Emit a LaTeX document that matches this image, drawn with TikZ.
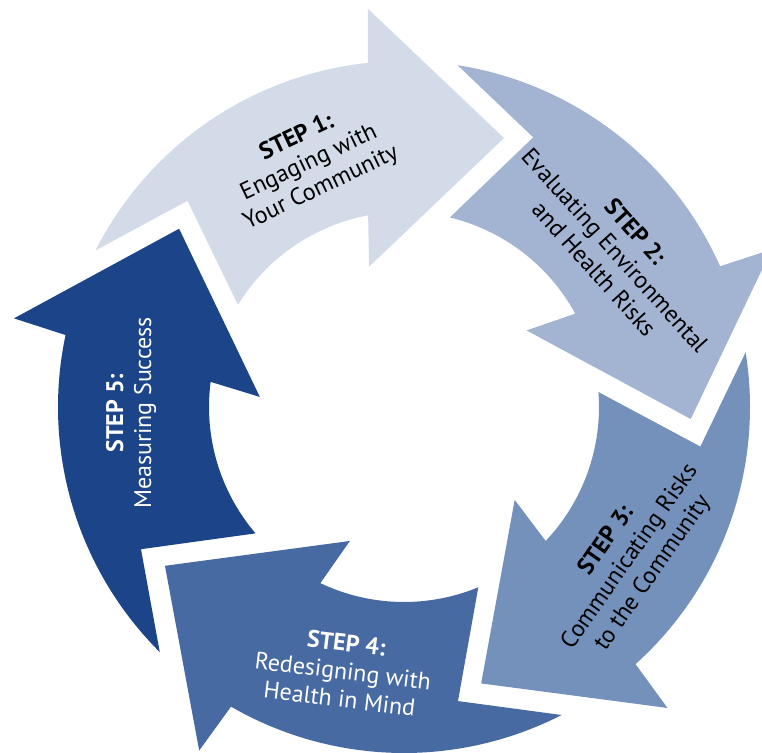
\documentclass[tikz,border=0pt]{standalone}
\usepackage{fontspec}
\setmainfont{PT Sans}

\definecolor{stepone}{HTML}{D3DBE8}
\definecolor{steptwo}{HTML}{A3B4D2}
\definecolor{stepthree}{HTML}{7491BC}
\definecolor{stepfour}{HTML}{476AA2}
\definecolor{stepfive}{HTML}{1C4589}

\tikzset{
  steptext/.style={align=center, font=\fontsize{24}{28}\selectfont},
}

\begin{document}
\begin{tikzpicture}[x = 1pt, y = 1pt]
\def\cx{404}
\def\cy{345}

\useasboundingbox (0,0) rectangle (762,752);
\coordinate (c) at (\cx, \cy);

% five curved arrows, same outline turned by 72 degrees
\fill[stepone, shift={(c)}] (153.1:346) arc[start angle=153.1, end angle=96.0, radius=346] -- (95.2:400) -- (69.6:287) -- (104.0:144.5) -- (100.6:195) arc[start angle=100.6, end angle=148.4, radius=195] -- (136.4:299) -- cycle;
\fill[steptwo, shift={(c)}, rotate=-72] (153.1:346) arc[start angle=153.1, end angle=96.0, radius=346] -- (95.2:400) -- (69.6:287) -- (104.0:144.5) -- (100.6:195) arc[start angle=100.6, end angle=148.4, radius=195] -- (136.4:299) -- cycle;
\fill[stepthree, shift={(c)}, rotate=-144] (153.1:346) arc[start angle=153.1, end angle=96.0, radius=346] -- (95.2:400) -- (69.6:287) -- (104.0:144.5) -- (100.6:195) arc[start angle=100.6, end angle=148.4, radius=195] -- (136.4:299) -- cycle;
\fill[stepfour, shift={(c)}, rotate=-216] (153.1:346) arc[start angle=153.1, end angle=96.0, radius=346] -- (95.2:400) -- (69.6:287) -- (104.0:144.5) -- (100.6:195) arc[start angle=100.6, end angle=148.4, radius=195] -- (136.4:299) -- cycle;
\fill[stepfive, shift={(c)}, rotate=-288] (153.1:346) arc[start angle=153.1, end angle=96.0, radius=346] -- (95.2:400) -- (69.6:287) -- (104.0:144.5) -- (100.6:195) arc[start angle=100.6, end angle=148.4, radius=195] -- (136.4:299) -- cycle;

\node[steptext, rotate=25.5] (s1) at (\cx - 95, \cy + 244) {\textbf{STEP 1:}\\Engaging with\\Your Community};
\node[steptext, rotate=-48] (s2) at (\cx + 211, \cy + 157) {\textbf{STEP 2:}\\Evaluating Environmental\\and Health Risks};
\node[steptext, rotate=55] (s3) at (\cx + 226, \cy - 150) {\textbf{STEP 3:}\\Communicating Risks\\to the Community};
\node[steptext, rotate=-7, white] (s4) at (\cx - 61, \cy - 264) {\textbf{STEP 4:}\\Redesigning with\\Health in Mind};
\node[steptext, rotate=90, white] (s5) at (\cx - 273, \cy - 6) {\textbf{STEP 5:}\\Measuring Success};
\end{tikzpicture}
\end{document}
